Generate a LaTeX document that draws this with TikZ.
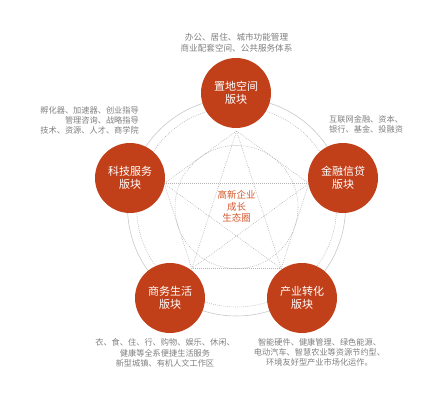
\documentclass[tikz,border=0pt]{standalone}
\usepackage{fontspec}
\setmainfont{Noto Sans CJK SC}
\usetikzlibrary{calc}
\definecolor{nodefill}{HTML}{C1401A}
\definecolor{centertext}{HTML}{D4572B}
\definecolor{desc}{HTML}{7F7F7F}
\definecolor{lineg}{HTML}{C8C8C8}
\definecolor{dotg}{HTML}{B4B4B4}
\begin{document}
\begin{tikzpicture}[x=1pt,y=-1pt,
  block/.style={circle,fill=nodefill,text=white,minimum size=70pt,inner sep=0pt,align=center,font=\fontsize{11}{12.5}\selectfont},
  desctext/.style={text=desc,font=\fontsize{8.2}{10.2}\selectfont,inner sep=0pt},
  solidring/.style={draw=lineg,line width=0.6pt},
  dotline/.style={draw=dotg,line width=0.6pt,dash pattern=on 0.8pt off 1.2pt},
]
\useasboundingbox (0,0) rectangle (445,402);
\coordinate (C) at (236.5,207);
% rings
\draw[solidring] (C) circle (109);
\draw[dotline] (C) circle (100);
\draw[dotline] (C) circle (61.5);
% pentagram vertices
\coordinate (pT) at (236.5,131);
\coordinate (pL) at (164.2,183.5);
\coordinate (pR) at (308.8,183.5);
\coordinate (pBL) at (191.8,268.5);
\coordinate (pBR) at (281.2,268.5);
% pentagon
\draw[dotline] (pT) -- (pR) -- (pBR) -- (pBL) -- (pL) -- cycle;
% pentagram
\draw[dotline] (pT) -- (pBL);
\draw[dotline] (pT) -- (pBR);
\draw[dotline] (pL) -- (pR);
\draw[dotline] (pL) -- (pBR);
\draw[dotline] (pR) -- (pBL);
% blocks
\node[block] (T) at (236,93) {置地空间\\版块};
\node[block] (R) at (343,178) {金融信贷\\版块};
\node[block] (L) at (130,178) {科技服务\\版块};
\node[block] (BL) at (170,298) {商务生活\\版块};
\node[block] (BR) at (302,298) {产业转化\\版块};
% center
\node[text=centertext,align=center,inner sep=0pt,font=\fontsize{9.5}{11.7}\selectfont] (center) at (236.5,206.5) {高新企业\\成长\\生态圈};
% descriptions
\node[desctext,align=center,font=\fontsize{8.6}{11.4}\selectfont] (dT) at (236.5,42.5) {办公、居住、城市功能管理\\商业配套空间、公共服务体系};
\node[desctext,align=right,anchor=east] (dL) at (139,120.5) {孵化器、加速器、创业指导\\管理咨询、战略指导\\技术、资源、人才、商学院};
\node[desctext,align=left,anchor=west] (dR) at (329,124) {互联网金融、资本、\\银行、基金、投融资};
\node[desctext,align=center] (dBL) at (165,353) {衣、食、住、行、购物、娱乐、休闲、\\健康等全系便捷生活服务\\新型城镇、有机人文工作区};
\node[desctext,align=center] (dBR) at (319.5,352.3) {智能硬件、健康管理、绿色能源、\\电动汽车、智慧农业等资源节约型、\\环境友好型产业市场化运作。};
\end{tikzpicture}
\end{document}
